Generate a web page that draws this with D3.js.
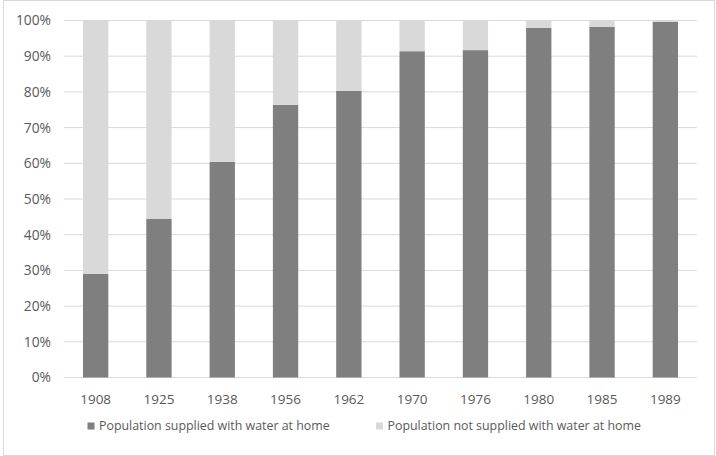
<!DOCTYPE html>
<html>
<head>
<meta charset="utf-8">
<script src="https://cdn.jsdelivr.net/npm/d3@7"></script>
<style>
  body { margin: 0; background: #fff; }
  text { font-family: "Open Sans", sans-serif; fill: #595959; }
</style>
</head>
<body>
<svg width="716" height="456"></svg>
<script>
const years = ['1908', '1925', '1938', '1956', '1962', '1970', '1976', '1980', '1985', '1989'];
const supplied = [29.0, 44.5, 60.4, 76.4, 80.3, 91.4, 91.7, 97.9, 98.2, 99.6];
const notSupplied = supplied.map(v => 100 - v);
const seriesNames = ['Population supplied with water at home', 'Population not supplied with water at home'];
const seriesColors = ['#7f7f7f', '#d9d9d9'];
const yTicks = [0, 10, 20, 30, 40, 50, 60, 70, 80, 90, 100];

const svg = d3.select('svg');
const width = +svg.attr('width');
const height = +svg.attr('height');
const margin = {left: 64, top: 20.5, right: 19, bottom: 78.5};
const innerWidth = width - margin.left - margin.right;
const innerHeight = height - margin.top - margin.bottom;

// chart border
svg.append('rect')
    .attr('x', 3.5).attr('y', 0.5)
    .attr('width', width - 5).attr('height', height - 1)
    .attr('fill', 'none').attr('stroke', '#d9d9d9');

const table = years.map((y, i) => ({year: y, supplied: supplied[i], notSupplied: notSupplied[i]}));
const stack = d3.stack().keys(['supplied', 'notSupplied'])(table);

const xScale = d3.scaleBand()
    .domain(years)
    .range([0, innerWidth])
    .paddingInner(0.6)
    .paddingOuter(0.3);
const yScale = d3.scaleLinear()
    .domain([0, 100])
    .range([innerHeight, 0]);

const g = svg.append('g')
    .attr('transform', `translate(${margin.left},${margin.top})`);

// gridlines
g.append('g').selectAll('line').data(yTicks)
    .enter().append('line')
    .attr('x1', 0).attr('x2', innerWidth)
    .attr('y1', d => yScale(d)).attr('y2', d => yScale(d))
    .attr('stroke', '#d9d9d9').attr('stroke-width', 1);

g.selectAll('g.series').data(stack)
    .enter().append('g')
    .attr('class', 'series')
    .attr('fill', (d, i) => seriesColors[i])
    .selectAll('rect').data(d => d)
    .enter().append('rect')
    .attr('x', d => xScale(d.data.year))
    .attr('y', d => yScale(d[1]))
    .attr('width', xScale.bandwidth())
    .attr('height', d => yScale(d[0]) - yScale(d[1]));

const yAxis = g.append('g')
    .call(d3.axisLeft(yScale).tickValues(yTicks).tickFormat(d => d + '%').tickSize(0).tickPadding(13));
yAxis.select('.domain').remove();
yAxis.selectAll('text').attr('font-size', 13.8).style('font-family', '"Open Sans", sans-serif').attr('fill', '#595959');

const xAxis = g.append('g')
    .attr('transform', `translate(0,${innerHeight})`)
    .call(d3.axisBottom(xScale).tickSize(0).tickPadding(17));
xAxis.select('.domain').remove();
xAxis.selectAll('text').attr('font-size', 13.5).style('font-family', '"Open Sans", sans-serif').attr('fill', '#595959');

// legend
const legendX = [87.5, 376];
const legend = svg.append('g').selectAll('g').data(seriesNames)
    .enter().append('g')
    .attr('transform', (d, i) => `translate(${legendX[i]},422.5)`);
legend.append('rect')
    .attr('width', 7).attr('height', 7)
    .attr('fill', (d, i) => seriesColors[i]);
legend.append('text')
    .attr('x', 11.5).attr('y', 7)
    .attr('font-size', 12.4)
    .text(d => d);
</script>
</body>
</html>
